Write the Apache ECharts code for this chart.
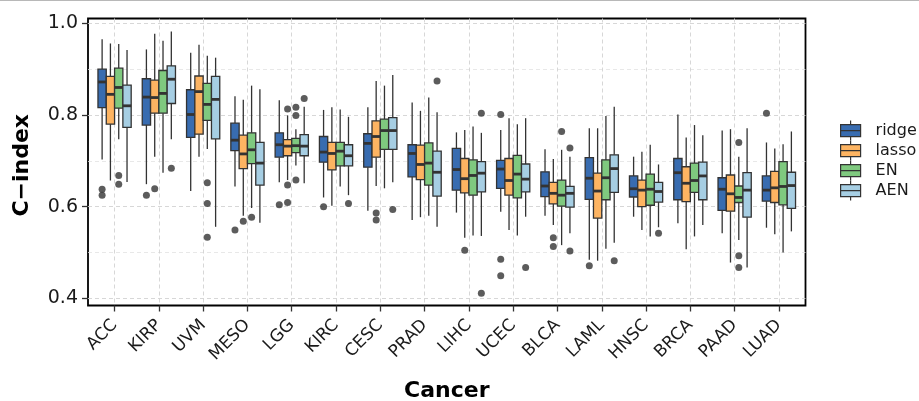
<!DOCTYPE html>
<html><head><meta charset="utf-8">
<script src="https://cdn.jsdelivr.net/npm/echarts@6/dist/echarts.min.js"></script>
<style>html,body{margin:0;padding:0;background:#fff}#c{width:919px;height:401px}</style>
</head><body><div id="c"></div>
<script>
const categories = ['ACC','KIRP','UVM','MESO','LGG','KIRC','CESC','PRAD','LIHC','UCEC','BLCA','LAML','HNSC','BRCA','PAAD','LUAD'];
const seriesNames = ['ridge','lasso','EN','AEN'];
const yTicks = [0.4, 0.6, 0.8, 1.0];
// each row: [lower whisker, Q1, median, Q3, upper whisker]
const ridge = [
  [0.703,0.816,0.872,0.900,0.965],[0.649,0.778,0.839,0.879,0.943],[0.634,0.751,0.801,0.855,0.936],
  [0.644,0.722,0.745,0.782,0.841],[0.653,0.708,0.735,0.761,0.832],[0.620,0.697,0.719,0.753,0.811],
  [0.591,0.686,0.738,0.759,0.817],[0.571,0.665,0.716,0.735,0.827],[0.587,0.636,0.681,0.727,0.762],
  [0.589,0.640,0.682,0.701,0.767],[0.580,0.622,0.645,0.676,0.725],[0.484,0.616,0.662,0.707,0.771],
  [0.578,0.621,0.639,0.667,0.709],[0.564,0.615,0.674,0.705,0.801],[0.542,0.592,0.638,0.663,0.766],
  [0.554,0.612,0.636,0.667,0.740]
];
const lasso = [
  [0.657,0.780,0.845,0.884,0.956],[0.709,0.804,0.838,0.876,0.977],[0.709,0.758,0.851,0.885,0.953],
  [0.580,0.683,0.715,0.756,0.833],[0.658,0.711,0.732,0.746,0.799],[0.602,0.680,0.716,0.740,0.817],
  [0.645,0.708,0.753,0.787,0.874],[0.577,0.659,0.692,0.734,0.809],[0.532,0.630,0.661,0.705,0.767],
  [0.549,0.625,0.657,0.705,0.793],[0.560,0.606,0.629,0.653,0.704],[0.482,0.575,0.634,0.673,0.771],
  [0.549,0.600,0.636,0.658,0.720],[0.507,0.611,0.651,0.687,0.751],[0.478,0.590,0.628,0.669,0.769],
  [0.540,0.609,0.641,0.677,0.727]
];
const EN = [
  [0.747,0.815,0.860,0.902,0.955],[0.674,0.804,0.847,0.897,0.962],[0.726,0.788,0.823,0.869,0.929],
  [0.597,0.694,0.724,0.761,0.864],[0.690,0.718,0.733,0.749,0.769],[0.644,0.689,0.721,0.740,0.812],
  [0.640,0.725,0.766,0.791,0.864],[0.580,0.647,0.695,0.739,0.838],[0.537,0.625,0.668,0.702,0.775],
  [0.537,0.619,0.671,0.712,0.780],[0.516,0.601,0.625,0.658,0.724],[0.508,0.615,0.663,0.702,0.798],
  [0.535,0.603,0.638,0.671,0.735],[0.535,0.631,0.657,0.695,0.778],[0.527,0.609,0.620,0.645,0.709],
  [0.500,0.604,0.644,0.698,0.736]
];
const AEN = [
  [0.654,0.773,0.820,0.865,0.942],[0.747,0.825,0.878,0.907,0.982],[0.556,0.748,0.834,0.884,0.925],
  [0.565,0.647,0.695,0.740,0.856],[0.651,0.711,0.732,0.757,0.818],[0.625,0.689,0.711,0.735,0.796],
  [0.653,0.725,0.766,0.794,0.887],[0.556,0.623,0.675,0.721,0.806],[0.536,0.632,0.673,0.698,0.761],
  [0.578,0.632,0.660,0.693,0.793],[0.542,0.599,0.629,0.644,0.709],[0.521,0.631,0.683,0.713,0.818],
  [0.555,0.610,0.633,0.653,0.692],[0.560,0.615,0.667,0.697,0.756],[0.467,0.577,0.636,0.674,0.771],
  [0.546,0.596,0.646,0.675,0.764]
];
const ridgeOutliers = [['ACC',0.638],['ACC',0.625],['KIRP',0.625],['MESO',0.549],['LGG',0.604],['KIRC',0.600],['UCEC',0.801],['UCEC',0.485],['UCEC',0.449],['LAML',0.471],['LUAD',0.804]];
const lassoOutliers = [['KIRP',0.639],['MESO',0.568],['LGG',0.813],['LGG',0.647],['LGG',0.609],['CESC',0.586],['CESC',0.571],['LIHC',0.505],['BLCA',0.532],['BLCA',0.513]];
const ENOutliers = [['ACC',0.668],['ACC',0.649],['UVM',0.652],['UVM',0.607],['UVM',0.533],['MESO',0.577],['LGG',0.817],['LGG',0.799],['LGG',0.658],['BLCA',0.764],['PAAD',0.740],['PAAD',0.493],['PAAD',0.467]];
const AENOutliers = [['KIRP',0.684],['LGG',0.836],['KIRC',0.607],['CESC',0.594],['PRAD',0.874],['LIHC',0.804],['LIHC',0.411],['UCEC',0.467],['BLCA',0.728],['BLCA',0.503],['LAML',0.482],['HNSC',0.542]];

const colors = ['#386CB0','#FDB462','#7FC97F','#A6CEE3'];
const boxStats = [ridge, lasso, EN, AEN];
const outlierSets = [ridgeOutliers, lassoOutliers, ENOutliers, AENOutliers];
const DODGE = 0.75 / 4;
const EDGE = '#333333';
const FONT = '"DejaVu Sans", "Liberation Sans", Arial, sans-serif';

// layout (px)
const W = 919, H = 401;
const PL = 88, PR = 805.5, PT = 18.5, PB = 305.5;
const band = (PR - PL) / (categories.length - 1 + 1.2);
const yTopPx = 23.3, yBotPx = 298.3;

function boxRenderer(k) {
  return function (params, api) {
    const x = api.value(0) + (k - 1.5) * DODGE;
    const lo = api.coord([x, api.value(1)]);
    const q1 = api.coord([x, api.value(2)]);
    const md = api.coord([x, api.value(3)]);
    const q3 = api.coord([x, api.value(4)]);
    const hi = api.coord([x, api.value(5)]);
    const half = api.size([DODGE, 0])[0] / 2;
    const ls = {stroke: EDGE, lineWidth: 1.3};
    return {type: 'group', children: [
      {type: 'line', shape: {x1: hi[0], y1: hi[1], x2: q3[0], y2: q3[1]}, style: ls},
      {type: 'line', shape: {x1: q1[0], y1: q1[1], x2: lo[0], y2: lo[1]}, style: ls},
      {type: 'rect', shape: {x: q3[0] - half, y: q3[1], width: half * 2, height: q1[1] - q3[1]},
        style: {fill: colors[k], stroke: EDGE, lineWidth: 1.3}},
      {type: 'line', shape: {x1: md[0] - half, y1: md[1], x2: md[0] + half, y2: md[1]},
        style: {stroke: EDGE, lineWidth: 2.8}}
    ]};
  };
}

const series = [];
seriesNames.forEach((name, k) => {
  series.push({
    name: name, type: 'custom', xAxisIndex: 0, yAxisIndex: 0, clip: false,
    itemStyle: {color: colors[k]},
    renderItem: boxRenderer(k),
    encode: {x: 0, y: [1, 2, 3, 4, 5]},
    data: boxStats[k].map((r, i) => [i].concat(r)),
    z: 3
  });
});
seriesNames.forEach((name, k) => {
  series.push({
    name: name + ' outliers', type: 'scatter', xAxisIndex: 0, yAxisIndex: 0,
    symbol: 'circle', symbolSize: 7,
    itemStyle: {color: EDGE},
    data: outlierSets[k].map(([c, v]) => [categories.indexOf(c) + (k - 1.5) * DODGE, v]),
    z: 4
  });
});

const legendIcon = 'path://M0,4 H20 V16 H0 Z M0,10 H20 M10,0 V4 M10,16 V20';
const gridBase = {outerBoundsMode: 'none', containLabel: false};

const option = {
  animation: false,
  backgroundColor: '#ffffff',
  textStyle: {fontFamily: FONT},
  graphic: [{type: 'rect', shape: {x: 0, y: 0, width: W, height: 1}, style: {fill: '#b8b8b8'}, silent: true}],
  grid: [
    Object.assign({left: PL, right: W - PR, top: yTopPx, bottom: H - yBotPx}, gridBase),
    Object.assign({left: PL + 0.6 * band, right: W - PR + 0.6 * band, top: PT, bottom: H - PB}, gridBase),
    Object.assign({left: PL, right: W - PR, top: PT, bottom: H - PB, show: true, borderColor: '#000', borderWidth: 1.8, backgroundColor: 'transparent'}, gridBase)
  ],
  xAxis: [
    {gridIndex: 0, type: 'value', min: -0.6, max: categories.length - 0.4, show: false, axisLine: {onZero: false}},
    {gridIndex: 1, type: 'category', data: categories, boundaryGap: false,
      axisLine: {show: false, onZero: false},
      axisTick: {show: true, length: 6, lineStyle: {color: EDGE, width: 1.3}},
      axisLabel: {rotate: 45, margin: 17, fontSize: 17, color: '#1a1a1a', fontFamily: FONT, interval: 0},
      splitLine: {show: true, lineStyle: {color: '#d2d2d2', width: 0.9, type: [4, 3]}},
      name: 'Cancer', nameLocation: 'middle', nameGap: 75, nameMoveOverlap: false,
      nameTextStyle: {fontSize: 22, fontWeight: 'bold', color: '#000', fontFamily: FONT}},
    {gridIndex: 2, type: 'value', show: false, axisLine: {onZero: false}}
  ],
  yAxis: [
    {gridIndex: 0, type: 'value', min: yTicks[0], max: yTicks[yTicks.length - 1], interval: 0.2,
      axisLine: {show: false, onZero: false},
      axisTick: {show: true, length: 6, lineStyle: {color: EDGE, width: 1.3}},
      axisLabel: {margin: 10, fontSize: 19, color: '#1a1a1a', fontFamily: FONT, formatter: v => v.toFixed(1)},
      splitLine: {show: true, lineStyle: {color: '#d2d2d2', width: 0.9, type: [4, 3]}},
      minorTick: {show: false, splitNumber: 2},
      minorSplitLine: {show: true, lineStyle: {color: '#e2e2e2', width: 0.8, type: [4, 3]}},
      name: 'C\u2212index', nameLocation: 'middle', nameGap: 55, nameRotate: 90, nameMoveOverlap: false,
      nameTextStyle: {fontSize: 22, fontWeight: 'bold', color: '#000', fontFamily: FONT, padding: [0, 9, 0, 0]}},
    {gridIndex: 1, type: 'value', show: false, splitLine: {show: false}, axisLine: {onZero: false}},
    {gridIndex: 2, type: 'value', show: false, splitLine: {show: false}, axisLine: {onZero: false}}
  ],
  legend: {
    orient: 'vertical', left: 840, top: 120, padding: 0, itemWidth: 20, itemHeight: 20, itemGap: -1.2,
    textStyle: {fontSize: 16, lineHeight: 20, color: '#1a1a1a', fontFamily: FONT, padding: [0, 0, 0, 10]},
    data: seriesNames.map((n, k) => ({name: n, icon: legendIcon,
      itemStyle: {color: colors[k], borderColor: EDGE, borderWidth: 1.2}}))
  },
  series: series
};
const chart = echarts.init(document.getElementById('c'), null, {renderer: 'canvas'});
chart.setOption(option);
</script></body></html>
